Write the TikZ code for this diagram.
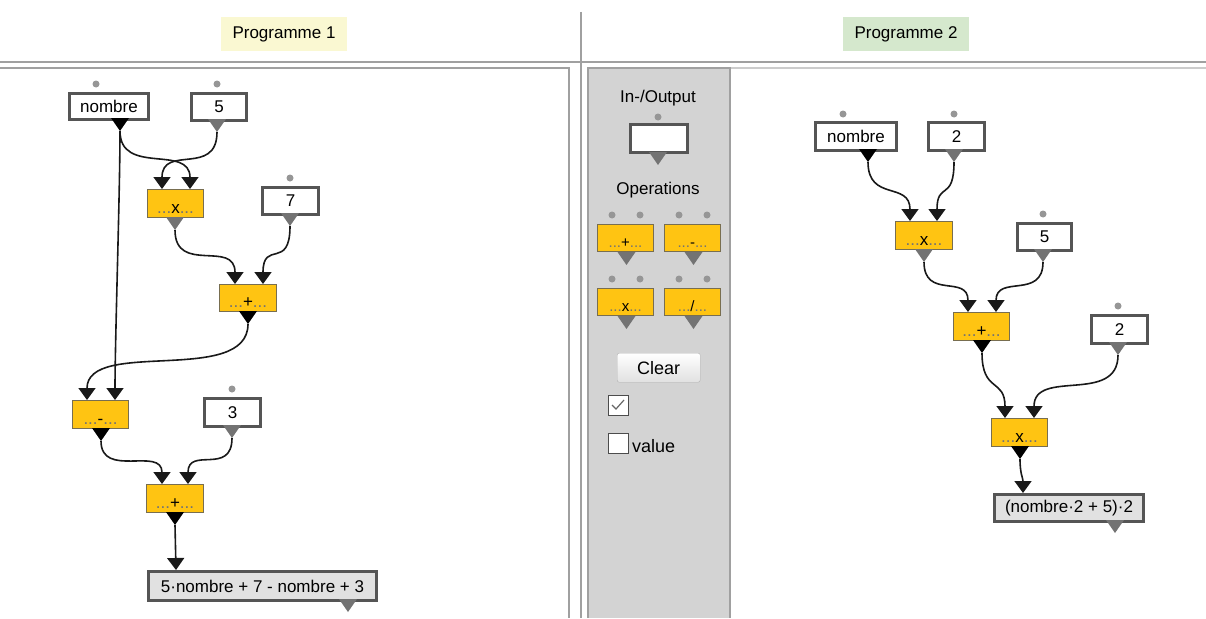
\documentclass[tikz,border=0pt]{standalone}
\usepackage{fontspec}
\setmainfont{Liberation Sans}
\usetikzlibrary{arrows.meta,calc}
\definecolor{opfill}{RGB}{255,196,18}
\definecolor{opedge}{RGB}{120,110,80}
\definecolor{boxgray}{RGB}{85,85,85}
\definecolor{resfill}{RGB}{225,225,225}
\definecolor{dotgray}{RGB}{150,150,150}
\definecolor{trigray}{RGB}{115,115,115}
\definecolor{sepgray}{RGB}{160,160,160}
\definecolor{sidefill}{RGB}{211,211,211}
\definecolor{prgone}{RGB}{250,248,210}
\definecolor{prgtwo}{RGB}{213,232,205}
\newcommand{\myfs}{\fontsize{17}{20}\selectfont}
\newcommand{\outtri}[2]{\fill[#1] (#2) -- ++(-9,-13) -- ++(18,0) -- cycle;}
\newcommand{\opdots}{\textcolor{black!55}{...}}
\newcommand{\optxt}[1]{\opdots#1\opdots}
\begin{document}
\begin{tikzpicture}[x=1pt,y=-1pt,
  inbox/.style={draw=boxgray, line width=3pt, fill=white, inner sep=0pt, anchor=north west, font=\myfs},
  resbox/.style={draw=boxgray, line width=3pt, fill=resfill, inner sep=0pt, anchor=north west, font=\myfs},
  opbox/.style={draw=opedge, line width=1pt, fill=opfill, inner sep=0pt, anchor=north west},
  optext/.style={anchor=base, inner sep=0pt, font=\myfs},
  lbl/.style={inner sep=0pt, font=\myfs},
  portdot/.style={fill=dotgray, circle, inner sep=0pt, minimum size=7pt},
  wire/.style={draw=black!90, line width=1.6pt, -{Triangle[width=17pt,length=12pt]}},
  sep/.style={draw=sepgray, line width=2pt}]
\useasboundingbox (0,0) rectangle (1206,618);
\fill[white] (0,0) rectangle (1206,618);

% header
\node[fill=prgone, minimum width=126pt, minimum height=34pt, font=\myfs, inner sep=0pt] (p1) at (284,34) {Programme 1};
\node[fill=prgtwo, minimum width=126pt, minimum height=34pt, font=\myfs, inner sep=0pt] (p2) at (906,34) {Programme 2};
\draw[sep] (0,62) -- (1206,62);
\draw[sep] (581,12) -- (581,618);
\draw[sep] (0,68) -- (569,68) -- (569,618);
\draw[draw=black!20, line width=1.5pt] (730,68) -- (1206,68);

% sidebar
\fill[sidefill] (588,68) rectangle (730,618);
\draw[sepgray, line width=1.5pt] (588,618) -- (588,68) -- (730,68) -- (730,618);
\node[lbl] (tio) at (658,98) {In-/Output};
\node[inbox, minimum width=57pt, minimum height=28pt] (tplin) at (629,123) {};
\node[portdot] (tplind) at (658,117) {};
\coordinate (tplino) at (658,165);
\outtri{trigray}{tplino}
\node[lbl] (tops) at (658,190) {Operations};
\foreach \nm/\xx/\yy/\sym in {tplplus/597/224/+, tplminus/664/224/-, tplx/597/288/x, tpldiv/664/288/\slash}{
  \node[opbox, minimum width=56pt, minimum height=27pt] (\nm) at (\xx,\yy) {};
  \node[optext, font=\fontsize{15}{18}\selectfont] (\nm t) at ($(\nm.south)+(0,-5)$) {\optxt{\sym}};
  \node[portdot] (\nm d1) at ($(\nm.north west)+(15,-9)$) {};
  \node[portdot] (\nm d2) at ($(\nm.north west)+(43,-9)$) {};
  \coordinate (\nm o) at ($(\nm.south)+(1,13)$);
  \outtri{trigray}{\nm o}
}
\node[draw=black!30, rounded corners=2pt, top color=white, bottom color=black!12, minimum width=83pt, minimum height=29pt, anchor=north west, inner sep=0pt, font=\fontsize{18}{20}\selectfont] (clr) at (617,353) {Clear};
\node[draw=black!70, line width=1pt, fill=white, minimum size=20pt, anchor=north west, inner sep=0pt] (cb1) at (608,395) {};
\draw[black!60, line width=1.2pt] ($(cb1.north west)+(4,10)$) -- ($(cb1.north west)+(8,14)$) -- ($(cb1.north west)+(16,5)$);
\node[draw=black!70, line width=1pt, fill=white, minimum size=20pt, anchor=north west, inner sep=0pt] (cb2) at (608,433) {};
\node[lbl, anchor=west, font=\fontsize{18}{20}\selectfont] (val) at (632,446) {value};

% ---------- Programme 1 ----------
\node[inbox, minimum width=79pt, minimum height=26pt] (nom1) at (68,92) {nombre};
\node[portdot] (nom1d) at (96,84) {};
\coordinate (nom1o) at (120,131); \outtri{black}{nom1o}

\node[inbox, minimum width=55pt, minimum height=27pt] (five1) at (190,92) {5};
\node[portdot] (five1d) at (217,84) {};
\coordinate (five1o) at (217,132); \outtri{trigray}{five1o}

\node[opbox, minimum width=56pt, minimum height=28pt] (x1) at (147,189) {};
\node[optext] (x1t) at ($(x1.south)+(0,-5)$) {\optxt{x}};
\coordinate (x1a) at (162,189); \coordinate (x1b) at (190,189);
\coordinate (x1o) at (175,230); \outtri{trigray}{x1o}

\node[inbox, minimum width=56pt, minimum height=27pt] (seven) at (261,186) {7};
\node[portdot] (sevend) at (290,178) {};
\coordinate (seveno) at (290,226); \outtri{trigray}{seveno}

\node[opbox, minimum width=57pt, minimum height=27pt] (plus1) at (219,284) {};
\node[optext] (plus1t) at ($(plus1.south)+(0,-5)$) {\optxt{+}};
\coordinate (plus1a) at (235,284); \coordinate (plus1b) at (263,284);
\coordinate (plus1o) at (248,324); \outtri{black}{plus1o}

\node[opbox, minimum width=56pt, minimum height=28pt] (minus1) at (72,400) {};
\node[optext] (minus1t) at ($(minus1.south)+(0,-5)$) {\optxt{-}};
\coordinate (minus1a) at (87,400); \coordinate (minus1b) at (115,400);
\coordinate (minus1o) at (101,441); \outtri{black}{minus1o}

\node[inbox, minimum width=56pt, minimum height=28pt] (three) at (203,397) {3};
\node[portdot] (threed) at (232,389) {};
\coordinate (threeo) at (232,438); \outtri{trigray}{threeo}

\node[opbox, minimum width=57pt, minimum height=28pt] (plus2) at (146,484) {};
\node[optext] (plus2t) at ($(plus2.south)+(0,-5)$) {\optxt{+}};
\coordinate (plus2a) at (162,484); \coordinate (plus2b) at (188,484);
\coordinate (plus2o) at (175,525); \outtri{black}{plus2o}

\node[resbox, minimum width=228pt, minimum height=29pt] (res1) at (147,570) {5·nombre + 7 - nombre + 3};
\coordinate (res1a) at (176,570);
\coordinate (res1o) at (348,612); \outtri{trigray}{res1o}

\draw[wire] (nom1o) .. controls +(0,45) and +(0,-45) .. (x1b);
\draw[wire] (five1o) .. controls +(0,45) and +(0,-45) .. (x1a);
\draw[wire] (nom1o) .. controls +(0,60) and +(0,-60) .. (minus1b);
\draw[wire] (x1o) .. controls +(0,45) and +(0,-45) .. (plus1a);
\draw[wire] (seveno) .. controls +(0,45) and +(0,-45) .. (plus1b);
\draw[wire] (plus1o) .. controls +(0,62) and +(0,-62) .. (minus1a);
\draw[wire] (minus1o) .. controls +(0,38) and +(0,-38) .. (plus2a);
\draw[wire] (threeo) .. controls +(0,38) and +(0,-38) .. (plus2b);
\draw[wire] (plus2o) -- (res1a);

% ---------- Programme 2 ----------
\node[inbox, minimum width=81pt, minimum height=28pt] (nom2) at (814,121) {nombre};
\node[portdot] (nom2d) at (843,114) {};
\coordinate (nom2o) at (868,162); \outtri{black}{nom2o}

\node[inbox, minimum width=56pt, minimum height=28pt] (twoa) at (927,121) {2};
\node[portdot] (twoad) at (954,114) {};
\coordinate (twoao) at (954,162); \outtri{trigray}{twoao}

\node[opbox, minimum width=57pt, minimum height=28pt] (x2) at (895,221) {};
\node[optext] (x2t) at ($(x2.south)+(0,-5)$) {\optxt{x}};
\coordinate (x2a) at (910,221); \coordinate (x2b) at (937,221);
\coordinate (x2o) at (924,262); \outtri{trigray}{x2o}

\node[inbox, minimum width=54pt, minimum height=27pt] (five2) at (1016,222) {5};
\node[portdot] (five2d) at (1043,214) {};
\coordinate (five2o) at (1043,262); \outtri{trigray}{five2o}

\node[opbox, minimum width=56pt, minimum height=28pt] (plus3) at (953,312) {};
\node[optext] (plus3t) at ($(plus3.south)+(0,-5)$) {\optxt{+}};
\coordinate (plus3a) at (968,312); \coordinate (plus3b) at (996,312);
\coordinate (plus3o) at (982,353); \outtri{black}{plus3o}

\node[inbox, minimum width=56pt, minimum height=28pt] (twob) at (1090,314) {2};
\node[portdot] (twobd) at (1118,306) {};
\coordinate (twobo) at (1118,355); \outtri{trigray}{twobo}

\node[opbox, minimum width=56pt, minimum height=28pt] (x3) at (991,418) {};
\node[optext] (x3t) at ($(x3.south)+(0,-5)$) {\optxt{x}};
\coordinate (x3a) at (1005,418); \coordinate (x3b) at (1034,418);
\coordinate (x3o) at (1020,459); \outtri{black}{x3o}

\node[resbox, minimum width=149pt, minimum height=27pt] (res2) at (993,493) {(nombre·2 + 5)·2};
\coordinate (res2a) at (1023,493);
\coordinate (res2o) at (1115,533); \outtri{trigray}{res2o}

\draw[wire] (nom2o) .. controls +(0,40) and +(0,-40) .. (x2a);
\draw[wire] (twoao) .. controls +(0,40) and +(0,-40) .. (x2b);
\draw[wire] (x2o) .. controls +(0,38) and +(0,-38) .. (plus3a);
\draw[wire] (five2o) .. controls +(0,38) and +(0,-38) .. (plus3b);
\draw[wire] (plus3o) .. controls +(0,40) and +(0,-40) .. (x3a);
\draw[wire] (twobo) .. controls +(0,50) and +(0,-50) .. (x3b);
\draw[wire] (x3o) .. controls +(0,15) and +(0,-15) .. (res2a);
\end{tikzpicture}
\end{document}
